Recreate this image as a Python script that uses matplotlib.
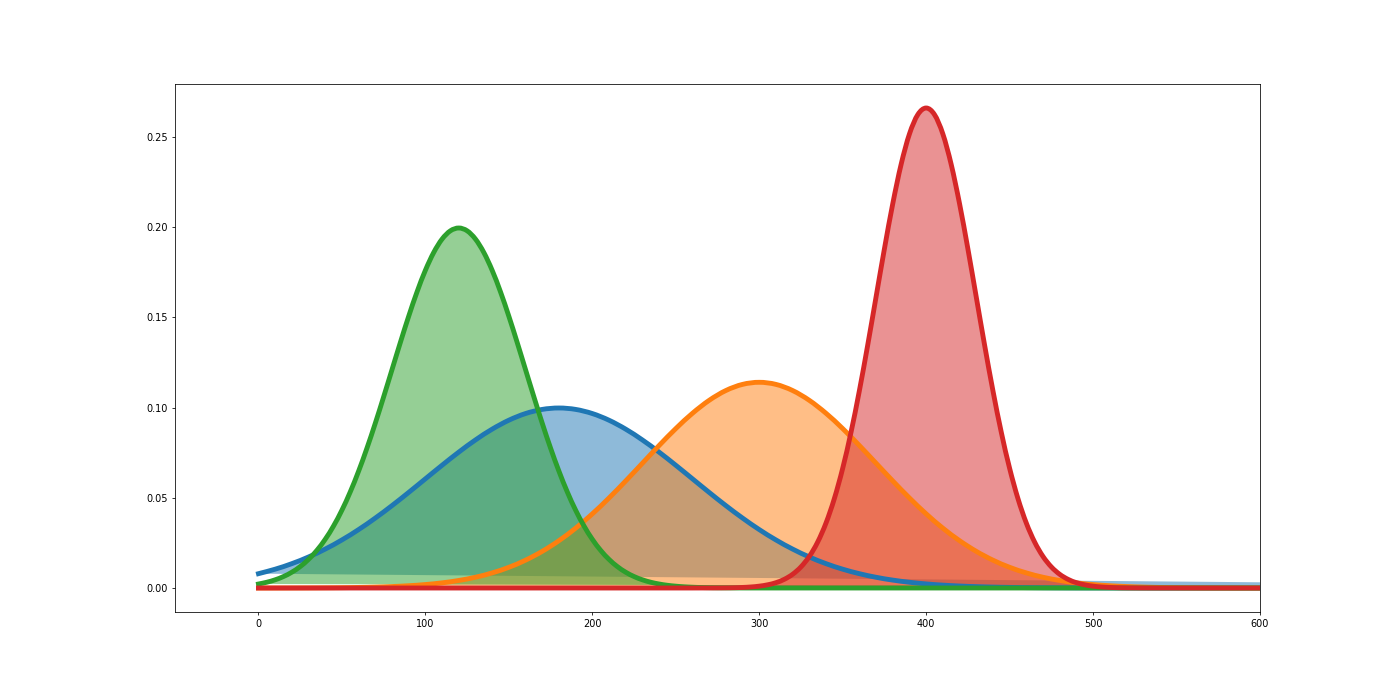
import numpy as np
import matplotlib
matplotlib.use("Agg")
import matplotlib.pyplot as plt
from matplotlib.path import Path
from matplotlib.patches import PathPatch

# sample positions (data x) for each curve; last point closes the fill polygon far right
x_blue = np.r_[np.arange(0, 610, 10), 1000]
x_orange = np.r_[np.arange(0, 610, 10), 1000]
x_green = np.r_[np.arange(0, 305, 5), 1000]
x_red = np.r_[0, np.arange(260, 545, 5), 1000]

y_blue = [0.00794, 0.01043, 0.01350, 0.01720, 0.02157, 0.02664, 0.03238, 0.03876, 0.04566, 0.05297,
          0.06050, 0.06802, 0.07529, 0.08204, 0.08802, 0.09297, 0.09667, 0.09896, 0.09974, 0.09896,
          0.09667, 0.09297, 0.08802, 0.08204, 0.07529, 0.06802, 0.06050, 0.05297, 0.04566, 0.03876,
          0.03238, 0.02664, 0.02157, 0.01720, 0.01350, 0.01043, 0.00794, 0.00594, 0.00438, 0.00318,
          0.00227, 0.00160, 0.00111, 0.00076, 0.00051, 0.00034, 0.00022, 0.00014, 0.00009, 0.00005,
          0.00003, 0.00002, 0.00001, 0.00001, 0.0, 0.0, 0.0, 0.0, 0.0, 0.0,
          0.0, 0.0]

y_orange = [0.00001, 0.00002, 0.00004, 0.00007, 0.00012, 0.00019, 0.00032, 0.00052, 0.00082, 0.00127,
            0.00192, 0.00286, 0.00418, 0.00597, 0.00837, 0.01147, 0.01543, 0.02032, 0.02623, 0.03316,
            0.04108, 0.04988, 0.05932, 0.06913, 0.07894, 0.08832, 0.09681, 0.10398, 0.10942, 0.11282,
            0.11398, 0.11282, 0.10942, 0.10398, 0.09681, 0.08832, 0.07894, 0.06913, 0.05932, 0.04988,
            0.04108, 0.03316, 0.02623, 0.02032, 0.01543, 0.01147, 0.00837, 0.00597, 0.00418, 0.00286,
            0.00192, 0.00127, 0.00082, 0.00052, 0.00032, 0.00019, 0.00012, 0.00007, 0.00004, 0.00002,
            0.00001, 0.0]

y_green = [0.00222, 0.00320, 0.00455, 0.00636, 0.00876, 0.01188, 0.01587, 0.02086, 0.02700, 0.03440,
           0.04314, 0.05327, 0.06476, 0.07751, 0.09132, 0.10594, 0.12098, 0.13603, 0.15057, 0.16408,
           0.17603, 0.18592, 0.19333, 0.19792, 0.19947, 0.19792, 0.19333, 0.18592, 0.17603, 0.16408,
           0.15057, 0.13603, 0.12098, 0.10594, 0.09132, 0.07751, 0.06476, 0.05327, 0.04314, 0.03440,
           0.02700, 0.02086, 0.01587, 0.01188, 0.00876, 0.00636, 0.00455, 0.00320, 0.00222, 0.00151,
           0.00102, 0.00067, 0.00044, 0.00028, 0.00018, 0.00011, 0.00007, 0.00004, 0.00002, 0.00001,
           0.00001, 0.0]

y_red = [0.0,
         0.0, 0.00001, 0.00002, 0.00005, 0.00009, 0.00017, 0.00032, 0.00058, 0.00103, 0.00177,
         0.00295, 0.00481, 0.00760, 0.01169, 0.01748, 0.02544, 0.03599, 0.04954, 0.06632, 0.08634,
         0.10934, 0.13466, 0.16131, 0.18794, 0.21296, 0.23471, 0.25159, 0.26229, 0.26596, 0.26229,
         0.25159, 0.23471, 0.21296, 0.18794, 0.16131, 0.13466, 0.10934, 0.08634, 0.06632, 0.04954,
         0.03599, 0.02544, 0.01748, 0.01169, 0.00760, 0.00481, 0.00295, 0.00177, 0.00103, 0.00058,
         0.00032, 0.00017, 0.00009, 0.00005, 0.00002, 0.00001, 0.0,
         0.0]

series = [(x_blue, y_blue, "tab:blue"),
          (x_orange, y_orange, "tab:orange"),
          (x_green, y_green, "tab:green"),
          (x_red, y_red, "tab:red")]


def smooth_path(xs, ys, close=False):
    """Cubic Bezier path through the read points (Hermite tangents in x)."""
    xs = np.asarray(xs, float)
    ys = np.asarray(ys, float)
    n = len(xs)
    m = np.zeros(n)
    m[1:-1] = (ys[2:] - ys[:-2]) / (xs[2:] - xs[:-2])
    m[0] = (ys[1] - ys[0]) / (xs[1] - xs[0])
    m[-1] = (ys[-1] - ys[-2]) / (xs[-1] - xs[-2])
    verts = [(xs[0], ys[0])]
    codes = [Path.MOVETO]
    for i in range(n - 1):
        h = xs[i + 1] - xs[i]
        verts += [(xs[i] + h / 3, ys[i] + m[i] * h / 3),
                  (xs[i + 1] - h / 3, ys[i + 1] - m[i + 1] * h / 3),
                  (xs[i + 1], ys[i + 1])]
        codes += [Path.CURVE4] * 3
    if close:
        verts.append((xs[0], ys[0]))
        codes.append(Path.CLOSEPOLY)
    return Path(verts, codes)


fig, ax = plt.subplots(figsize=(20, 10), dpi=70)
fig.subplots_adjust(left=0.125, right=0.9, top=0.88, bottom=0.1257)

for xs, ys, c in series:
    ax.add_patch(PathPatch(smooth_path(xs, ys, close=True), facecolor=c,
                           edgecolor="none", alpha=0.5, zorder=1))
for xs, ys, c in series:
    ax.add_patch(PathPatch(smooth_path(xs, ys), facecolor="none", edgecolor=c,
                           lw=5, capstyle="projecting", joinstyle="round", zorder=2))

ymax = max(max(y_blue), max(y_orange), max(y_green), max(y_red))
ax.set_xlim(-50, 600)
ax.set_ylim(-0.05 * ymax, 1.05 * ymax)
ax.set_yticks([0.0, 0.05, 0.10, 0.15, 0.20, 0.25])
ax.set_xticks([0, 100, 200, 300, 400, 500, 600])
fig.savefig("out.png", dpi=70)
